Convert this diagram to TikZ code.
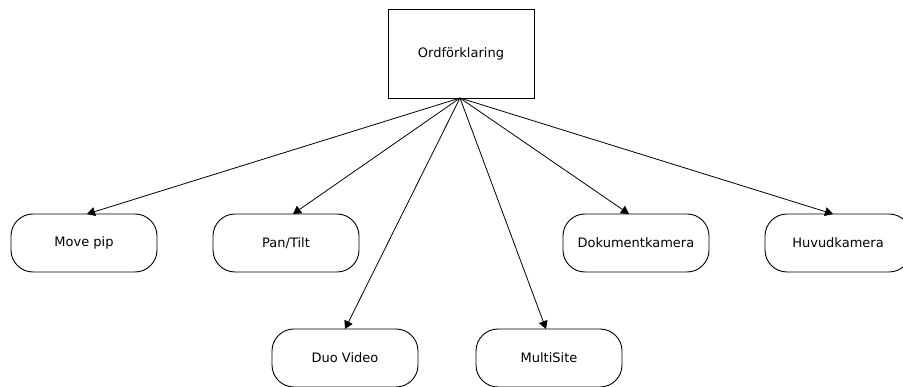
\documentclass[tikz,border=0pt]{standalone}
\usepackage{fontspec}
\setmainfont{DejaVu Sans}
\usetikzlibrary{arrows.meta}
\begin{document}
\begin{tikzpicture}[x=1pt,y=-1pt,
  termbox/.style={draw,line width=0.9pt,rounded corners=22pt,minimum width=146pt,minimum height=58pt,inner sep=0pt,font=\fontsize{13}{15}\selectfont},
  topbox/.style={draw,line width=0.9pt,minimum width=146pt,minimum height=89pt,inner sep=0pt,font=\fontsize{13}{15}\selectfont},
  conn/.style={line width=0.8pt,-{Triangle[length=8pt,width=9pt]}}]
\useasboundingbox (0,0) rectangle (903,387);
\clip (0,0) rectangle (903,387);
\node[topbox] (top) at (461,53.5) {Ordförklaring};
\coordinate (hub) at (460,98);
\node[termbox] (mp) at (84,243) {Move pip};
\node[termbox] (pt) at (286,243) {Pan/Tilt};
\node[termbox] (dk) at (636,243) {Dokumentkamera};
\node[termbox] (hk) at (838,243) {Huvudkamera};
\node[termbox] (dv) at (345,358) {Duo Video};
\node[termbox] (ms) at (549,358) {MultiSite};
\draw[conn] (hub) -- (87,214);
\draw[conn] (hub) -- (293,214);
\draw[conn] (hub) -- (629,214);
\draw[conn] (hub) -- (833,214);
\draw[conn] (hub) -- (345,329);
\draw[conn] (hub) -- (546,329);
\end{tikzpicture}
\end{document}
